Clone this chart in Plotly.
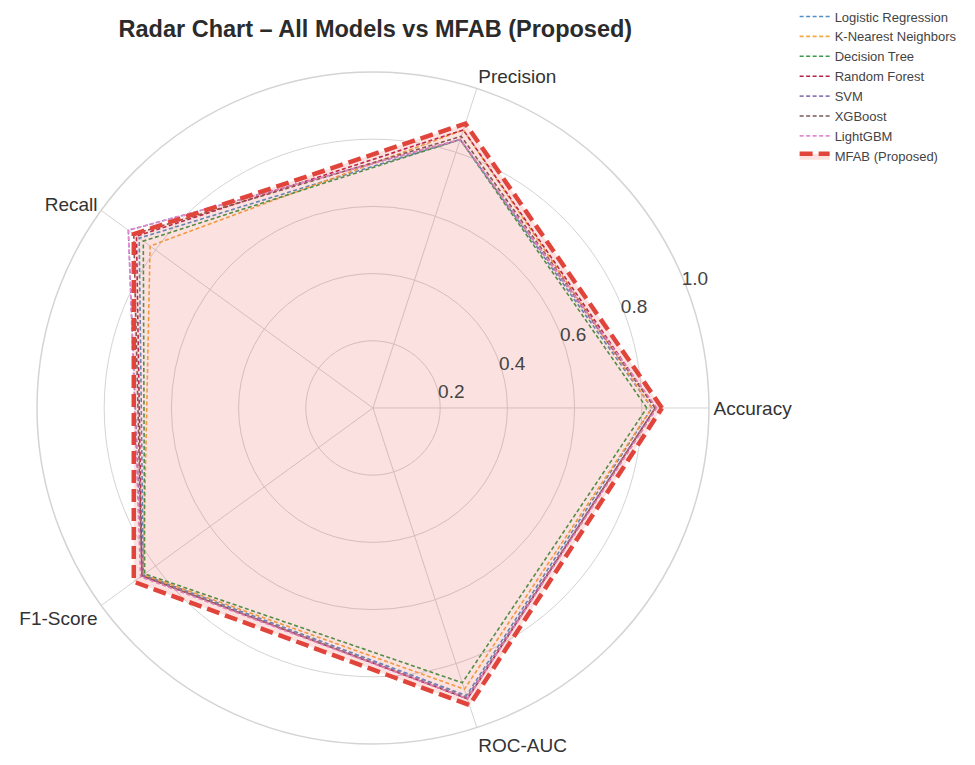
import plotly.graph_objects as go

# Evaluation metrics (spokes of the radar)
metrics = ["Accuracy", "Precision", "Recall", "F1-Score", "ROC-AUC"]

# Baseline models
logistic_regression = [0.830, 0.840, 0.860, 0.845, 0.900]
k_nearest_neighbors = [0.830, 0.870, 0.820, 0.845, 0.880]
decision_tree = [0.815, 0.840, 0.845, 0.840, 0.860]
random_forest = [0.840, 0.870, 0.870, 0.850, 0.910]
svm = [0.840, 0.840, 0.900, 0.850, 0.905]
xgboost = [0.840, 0.850, 0.880, 0.850, 0.910]
lightgbm = [0.845, 0.840, 0.900, 0.855, 0.910]

# Proposed model
mfab = [0.860, 0.890, 0.880, 0.880, 0.930]

model_names = ["Logistic Regression", "K-Nearest Neighbors", "Decision Tree",
               "Random Forest", "SVM", "XGBoost", "LightGBM"]
model_scores = [logistic_regression, k_nearest_neighbors, decision_tree,
                random_forest, svm, xgboost, lightgbm]
model_colors = ["#4f8fc8", "#f5a742", "#3a9a4a", "#b5234a",
                "#8f7ab8", "#7a5a55", "#e38ad0"]

radial_ticks = [0.2, 0.4, 0.6, 0.8, 1.0]
radial_tick_text = ["0.2", "0.4", "0.6", "0.8", "1.0"]


def closed(values):
    return list(values) + [values[0]]


theta = closed(metrics)

fig = go.Figure()

for name, scores, color in zip(model_names, model_scores, model_colors):
    fig.add_trace(go.Scatterpolar(
        r=closed(scores), theta=theta, name=name, mode="lines",
        line=dict(color=color, width=1.6, dash="4px,2.5px"),
    ))

fig.add_trace(go.Scatterpolar(
    r=closed(mfab), theta=theta, name="MFAB (Proposed)", mode="lines",
    line=dict(color="#e0443a", width=4.5, dash="13px,6px"),
    fill="toself", fillcolor="rgba(231,76,60,0.16)",
))

fig.update_layout(
    width=975, height=765,
    margin=dict(l=0, r=0, t=0, b=0),
    paper_bgcolor="white",
    font=dict(family="Liberation Sans, Arial, sans-serif", color="#333333"),
    title=dict(
        text="<b>Radar Chart – All Models vs MFAB (Proposed)</b>",
        x=0.385, xanchor="center", y=0.963, yanchor="middle",
        font=dict(size=23.5, color="#2b2b2b"),
    ),
    polar=dict(
        domain=dict(x=[0.0379, 0.7272], y=[0.0275, 0.9059]),
        bgcolor="white",
        radialaxis=dict(
            range=[0, 1.0], tickvals=radial_ticks, ticktext=radial_tick_text,
            angle=25, tickangle=25, showline=False, ticks="",
            gridcolor="#d4d4d4", gridwidth=1.2,
            tickfont=dict(size=19, color="#444444"),
        ),
        angularaxis=dict(
            rotation=0, direction="counterclockwise",
            showline=True, linecolor="#d4d4d4", linewidth=1.5,
            gridcolor="#d4d4d4", gridwidth=1.2, ticks="",
            tickfont=dict(size=19, color="#333333"),
        ),
    ),
    legend=dict(
        x=0.815, y=0.998, xanchor="left", yanchor="top",
        font=dict(size=13, color="#444444"),
        bgcolor="rgba(255,255,255,0)", tracegroupgap=0,
        itemwidth=30,
    ),
    showlegend=True,
)

fig.write_html("out.html")
